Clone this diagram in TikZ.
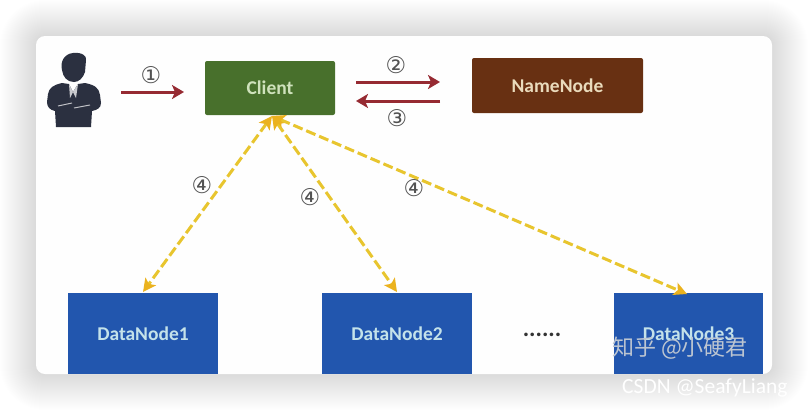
\documentclass[tikz,border=0pt]{standalone}
\usepackage{fontspec}
\setmainfont{Carlito}
\newfontfamily\symfont{DejaVu Sans}
\newfontfamily\cjkfont{Noto Sans CJK SC}
\usetikzlibrary{arrows.meta}
\definecolor{redarrow}{HTML}{962A32}
\definecolor{yellowarrow}{HTML}{E8C52E}
\definecolor{yellowtip}{HTML}{EBB21E}
\definecolor{clientfill}{HTML}{48702C}
\definecolor{clienttext}{HTML}{CFE2BC}
\definecolor{namefill}{HTML}{683012}
\definecolor{nametext}{HTML}{EADBBC}
\definecolor{datafill}{HTML}{2256AE}
\definecolor{datatext}{HTML}{C4E2EA}
\definecolor{persondark}{HTML}{2B3040}
\definecolor{cardfill}{HTML}{FEFEFE}
\definecolor{marktext}{HTML}{BCC5D1}
\tikzset{
  x=1pt,y=-1pt,
  boxnode/.style={draw=none,rounded corners=2pt,inner sep=0pt,font=\fontsize{19.5}{21}\selectfont\bfseries},
  datanode/.style={boxnode,rounded corners=0pt,fill=datafill,text=datatext,minimum width=150pt,minimum height=81pt},
  flow/.style={draw=redarrow,line width=3pt,-{Stealth[length=12pt,width=14pt,inset=3pt]}},
  query/.style={draw=yellowarrow,line width=3pt,dash pattern=on 10pt off 4pt,{Stealth[length=13pt,width=13pt,inset=3pt,color=yellowtip]}-{Stealth[length=13pt,width=13pt,inset=3pt,color=yellowtip]}},
  numlabel/.style={font=\symfont\fontsize{23}{25}\selectfont,text=black!68,inner sep=0pt},
}
\begin{document}
\begin{tikzpicture}
\useasboundingbox (0,0) rectangle (808,410);
\fill[white] (0,0) rectangle (808,410);
% soft shadow round the card
\foreach \d in {36,35,...,0}{
  \fill[black,opacity=0.0055,rounded corners=\d pt+9pt] (36-\d,36-\d) rectangle (772+\d,374+\d);
}
\node[inner sep=0pt,minimum width=736pt,minimum height=338pt,fill=cardfill,rounded corners=9pt] (card) at (404,205) {};
% person
\fill[persondark] (73,53) .. controls (82,52) and (87,56) .. (86,60) -- (85,72) .. controls (83,78) and (79,82) .. (74,82) .. controls (67,82) and (63,77) .. (62,70) .. controls (60,62) and (64,54) .. (73,53) -- cycle;
\fill[persondark] (62,83) -- (69,84) -- (73,92) -- (78,84) -- (85,83) .. controls (95,85) and (99,88) .. (100,95) -- (101,103) .. controls (101,108) and (97,110) .. (92,111) -- (91,127) -- (56,127) -- (55,111) .. controls (50,110) and (47,107) .. (47,102) -- (48,94) .. controls (49,88) and (53,85) .. (62,83) -- cycle;
\draw[white!70!persondark,line width=1pt] (58,106) -- (72,103) (74,108) -- (90,105);
\fill[white!75!persondark] (69,84) -- (73,92) -- (70,98) -- cycle (78,84) -- (73,92) -- (76,98) -- cycle;
% nodes
\node[boxnode,fill=clientfill,text=clienttext,minimum width=130pt,minimum height=54pt] (client) at (270,88) {Client};
\node[boxnode,fill=namefill,text=nametext,minimum width=171pt,minimum height=55pt] (namenode) at (557.5,85.5) {NameNode\hspace{4pt}};
\node[datanode] (dn1) at (143,333.5) {DataNode1\hspace{5pt}};
\node[datanode] (dn2) at (397,333.5) {DataNode2\hspace{4pt}};
\node[datanode,minimum width=149pt] (dn3) at (688.5,333.5) {DataNode3};
% connector ends
\coordinate (userend) at (121,92);
\coordinate (clientin) at (184,92);
\coordinate (cr2a) at (356,82);
\coordinate (cr2b) at (440,82);
\coordinate (cr3a) at (440,101);
\coordinate (cr3b) at (356,101);
\coordinate (apex) at (272,116);
\coordinate (d1) at (143,292);
\coordinate (d2) at (397,292);
\coordinate (d3) at (687,294);
% arrows
\draw[flow] (userend) -- (clientin);
\draw[flow] (cr2a) -- (cr2b);
\draw[flow] (cr3a) -- (cr3b);
\draw[query] (apex) -- (d1);
\draw[query] (apex) -- (d2);
\draw[query] (apex) -- (d3);
% labels
\node[numlabel] (n1) at (151,75) {①};
\node[numlabel] (n2) at (396,65) {②};
\node[numlabel] (n3) at (397,118) {③};
\node[numlabel] (n4a) at (202,185) {④};
\node[numlabel] (n4b) at (310,197) {④};
\node[numlabel] (n4c) at (414,188) {④};
\node[inner sep=0pt,font=\bfseries\fontsize{24}{24}\selectfont,text=black!80,anchor=base] (dots) at (542,336) {......};
% watermarks
\node[inner sep=0pt,font=\cjkfont\fontsize{22}{24}\selectfont,text=marktext,anchor=west] (zh) at (612,348) {知乎 @小硬君};
\node[inner sep=0pt,font=\fontsize{21.5}{23}\selectfont,text=white,anchor=west] (csdn) at (622,388) {CSDN @SeafyLiang};
\end{tikzpicture}
\end{document}
